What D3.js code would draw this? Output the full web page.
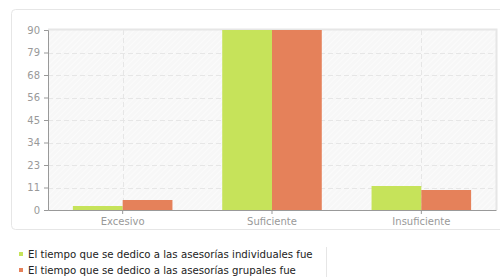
<!DOCTYPE html>
<html><head><meta charset="utf-8">
<script src="https://cdn.jsdelivr.net/npm/d3@7"></script>
<style>body{margin:0;background:#fff;}svg{display:block;}</style>
</head><body>
<script>
const categories = ["Excesivo", "Suficiente", "Insuficiente"];
const seriesNames = ["El tiempo que se dedico a las asesorías individuales fue", "El tiempo que se dedico a las asesorías grupales fue"];
const individuales = [2, 90, 12];
const grupales = [5, 90, 10];
const yTicks = [0, 11.25, 22.5, 33.75, 45, 56.25, 67.5, 78.75, 90];
const colors = ["#c6e35a", "#e5815a"];

const W = 500, H = 277;
const svg = d3.select("body").append("svg").attr("width", W).attr("height", H);
const defs = svg.append("defs");
const pat = defs.append("pattern").attr("id","hatch").attr("patternUnits","userSpaceOnUse")
  .attr("width",4).attr("height",4).attr("patternTransform","rotate(45)");
pat.append("rect").attr("width",4).attr("height",4).attr("fill","#f7f7f7");
pat.append("line").attr("x1",0).attr("y1",0).attr("x2",0).attr("y2",4).attr("stroke","#fdfdfd").attr("stroke-width",1.5);

// container
svg.append("rect").attr("x",11.5).attr("y",9.5).attr("width",500).attr("height",220).attr("rx",4)
  .attr("fill","#fff").attr("stroke","#e6e6e6");

const m = {l:48, t:30, r:496, b:210};
const x = d3.scaleBand().domain(categories).range([m.l, m.r]);
const y = d3.scaleLinear().domain([0, 90]).range([m.b, m.t]);
const x1 = d3.scaleBand().domain([0,1]).range([0, x.bandwidth()]).paddingOuter(0.5);

svg.append("rect").attr("x",m.l).attr("y",m.t).attr("width",m.r-m.l).attr("height",m.b-m.t).attr("fill","url(#hatch)");
// frame top/right
svg.append("path").attr("d",`M${m.l},${m.t-0.5}H${m.r+0.5}V${m.b}`).attr("fill","none").attr("stroke","#e6e6e6").attr("stroke-width",2);

// grid
svg.append("g").selectAll("line").data(yTicks.slice(1,-1)).join("line")
  .attr("x1",m.l).attr("x2",m.r).attr("y1",d=>Math.round(y(d))+0.5).attr("y2",d=>Math.round(y(d))+0.5)
  .attr("stroke","#e6e6e6").attr("stroke-dasharray","5,3");
svg.append("g").selectAll("line").data(categories).join("line")
  .attr("y1",m.t).attr("y2",m.b).attr("x1",d=>Math.round(x(d)+x.bandwidth()/2)+0.5).attr("x2",d=>Math.round(x(d)+x.bandwidth()/2)+0.5)
  .attr("stroke","#e6e6e6").attr("stroke-dasharray","5,3");

// bars
const data = [individuales, grupales];
data.forEach((vals, si) => {
  svg.append("g").selectAll("rect").data(categories).join("rect")
    .attr("x",(d)=>x(d)+x1(si)).attr("width",x1.bandwidth())
    .attr("y",(d,i)=>y(vals[i])).attr("height",(d,i)=>y(0)-y(vals[i]))
    .attr("fill",colors[si]);
});

// axes
const yAxis = d3.axisLeft(y).tickValues(yTicks).tickFormat(d=>Math.round(d)).tickSize(4).tickPadding(4);
const gy = svg.append("g").attr("transform",`translate(${m.l},0)`).call(yAxis);
gy.select(".domain").attr("stroke","#999");
gy.selectAll(".tick line").attr("stroke","#999");
gy.selectAll("text").attr("fill","#999").attr("font-family","DejaVu Sans, Verdana, sans-serif").attr("font-size",10);

const xAxis = d3.axisBottom(x).tickSize(4).tickPadding(4).tickSizeOuter(0);
const gx = svg.append("g").attr("transform",`translate(0,${m.b})`).call(xAxis);
gx.select(".domain").attr("stroke","#999");
gx.selectAll(".tick line").attr("stroke","#999");
gx.selectAll("text").attr("fill","#999").attr("font-family","DejaVu Sans, Verdana, sans-serif").attr("font-size",10);

// legend
const lg = svg.append("g");
seriesNames.forEach((n,i)=>{
  const yy = 254 + i*16;
  lg.append("rect").attr("x",19).attr("y",yy-2).attr("width",4).attr("height",4).attr("fill",colors[i]);
  lg.append("text").attr("x",28).attr("y",yy+4).text(n).attr("fill","#222")
    .attr("font-family","DejaVu Sans, Verdana, sans-serif").attr("font-size",10.2);
});
svg.append("line").attr("x1",326.5).attr("x2",326.5).attr("y1",247).attr("y2",277).attr("stroke","#e6e6e6");
</script>
</body></html>
